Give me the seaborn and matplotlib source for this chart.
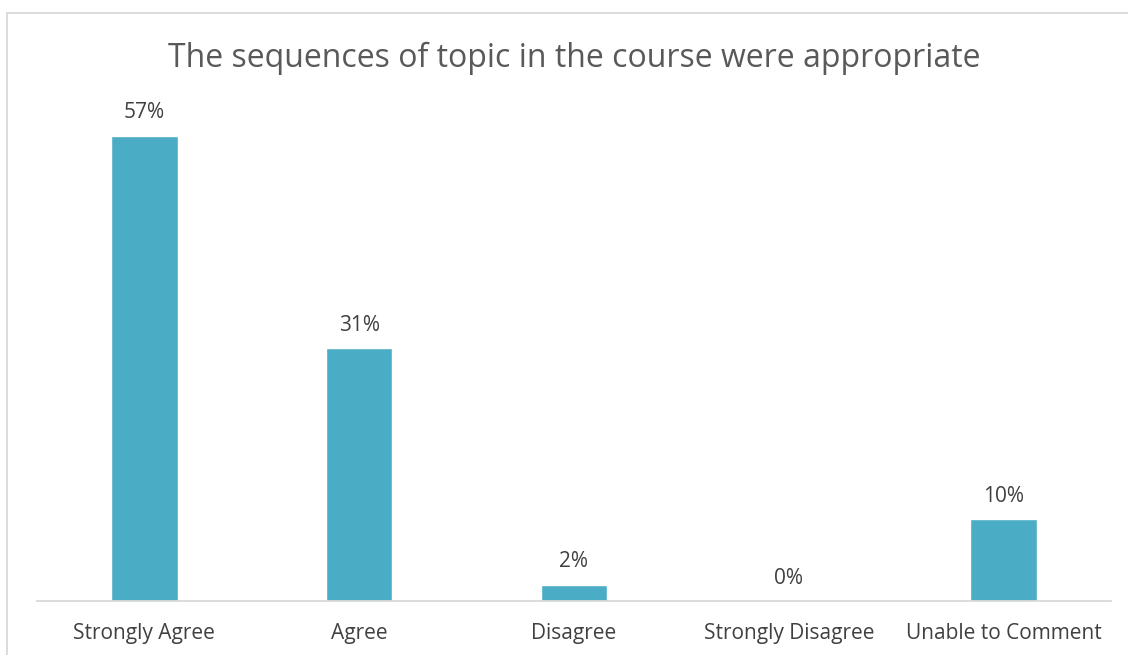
import matplotlib
matplotlib.use("Agg")
import matplotlib.pyplot as plt
import matplotlib.patches as mpatches
import seaborn as sns
import pandas as pd

categories = ["Strongly Agree", "Agree", "Disagree", "Strongly Disagree", "Unable to Comment"]
percentages = [57, 31, 2, 0, 10]

df = pd.DataFrame({"response": categories, "pct": percentages})

sns.set_style("white")
plt.rcParams["font.family"] = ["Open Sans", "DejaVu Sans"]

fig = plt.figure(figsize=(11.28, 6.55), dpi=100)
ax = fig.add_axes([37 / 1128, 54 / 655, (1111 - 37) / 1128, 489.6 / 655])

sns.barplot(data=df, x="response", y="pct", color="#4BACC6", saturation=1,
            width=0.31, ax=ax)

ax.set_ylim(0, 60)
ax.set_xlim(-0.5, 4.5)
for bar, val in zip(ax.patches, percentages):
    ax.annotate(f"{val}%", (bar.get_x() + bar.get_width() / 2, bar.get_height()),
                xytext=(0, 9), textcoords="offset points", ha="center", va="bottom",
                fontsize=15, color="#404040")

ax.set_xlabel("")
ax.set_ylabel("")
ax.set_yticks([])
ax.tick_params(axis="x", length=0, pad=16, labelsize=15, labelcolor="#404040")
for side in ["top", "left", "right"]:
    ax.spines[side].set_visible(False)
ax.spines["bottom"].set_color("#D9D9D9")
ax.spines["bottom"].set_linewidth(1.3)

fig.text(574 / 1128, 1 - 58 / 655, "The sequences of topic in the course were appropriate",
         ha="center", va="center", fontsize=23, color="#595959")

# chart border
fig.patches.append(mpatches.Rectangle((7 / 1128, -0.1), 1.2, 1.1 - 13 / 655,
                                      transform=fig.transFigure, fill=False,
                                      edgecolor="#D9D9D9", linewidth=1.3))

fig.savefig("out.png", dpi=100)
